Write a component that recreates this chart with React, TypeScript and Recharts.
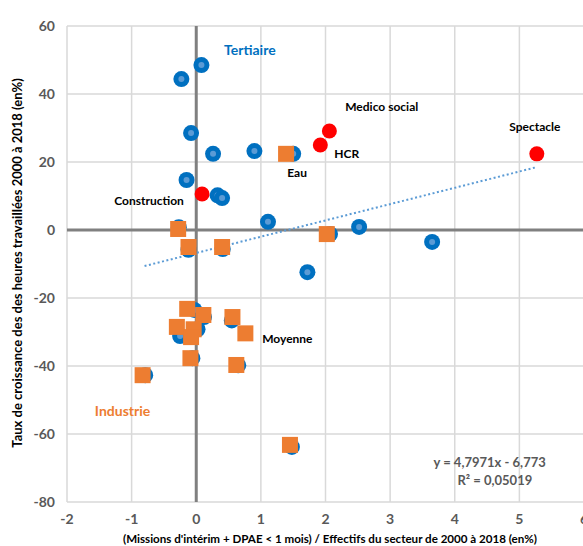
import {
  ScatterChart,
  Scatter,
  XAxis,
  YAxis,
  CartesianGrid,
  ReferenceLine,
  ReferenceDot,
} from 'recharts'

// all sectors (blue)
const allSectors = [
  { x: -0.23, y: 44.4 }, { x: 0.08, y: 48.5 }, { x: -0.08, y: 28.5 }, { x: 0.26, y: 22.4 },
  { x: 0.9, y: 23.2 }, { x: 1.5, y: 22.4 }, { x: -0.15, y: 14.7 }, { x: 0.33, y: 10.2 },
  { x: 0.4, y: 9.4 }, { x: 1.11, y: 2.4 }, { x: 2.52, y: 0.9 }, { x: 3.65, y: -3.5 },
  { x: 1.72, y: -12.4 }, { x: -0.27, y: 0.8 }, { x: 2.07, y: -1.2 }, { x: -0.12, y: -5.8 },
  { x: 0.41, y: -5.6 }, { x: -0.03, y: -23.5 }, { x: 0.12, y: -25.6 }, { x: 0.55, y: -26.6 },
  { x: -0.25, y: -31.2 }, { x: 0.02, y: -29.2 }, { x: -0.06, y: -37.7 }, { x: 0.65, y: -39.8 },
  { x: -0.79, y: -42.7 }, { x: 1.48, y: -63.8 },
]

// industrie sectors (orange squares)
const industrySectors = [
  { x: 1.39, y: 22.4 }, { x: -0.28, y: 0.3 }, { x: -0.12, y: -5 }, { x: 0.4, y: -5 },
  { x: 2.02, y: -1.2 }, { x: -0.14, y: -23.2 }, { x: 0.11, y: -25 }, { x: 0.56, y: -25.6 },
  { x: -0.3, y: -28.5 }, { x: -0.04, y: -29.2 }, { x: -0.08, y: -31.5 }, { x: 0.76, y: -30.4 },
  { x: -0.09, y: -37.7 }, { x: 0.62, y: -39.7 }, { x: -0.83, y: -42.7 }, { x: 1.45, y: -63.2 },
]

// Construction, HCR, Medico social, Spectacle
const namedSectors = [
  { x: 0.09, y: 10.6 }, { x: 1.92, y: 25 }, { x: 2.06, y: 29.1 }, { x: 5.27, y: 22.4 },
]

// linear trend, ends
const trendPoints = [
  { x: -0.8, y: -10.6 },
  { x: 5.27, y: 18.5 },
]

const xTicks = [-2, -1, 0, 1, 2, 3, 4, 5, 6]
const yTicks = [-80, -60, -40, -20, 0, 20, 40, 60]

const FONT = 'Lato, "Open Sans", sans-serif'
const GREY = '#595959'

const BlueDot = (p: any) => (
  <g>
    <circle cx={p.cx} cy={p.cy} r={8} fill="#0070C0" />
    <circle cx={p.cx} cy={p.cy} r={3} fill="#5B9BD5" />
  </g>
)

const OrangeSquare = (p: any) => (
  <rect x={p.cx - 8} y={p.cy - 8} width={16} height={16} fill="#ED7D31" />
)

const RedDot = (p: any) => <circle cx={p.cx} cy={p.cy} r={7.5} fill="#FF0000" />

const textLabel = (value: string, fill: string, size: number) => (props: any) => {
  const { viewBox } = props
  return (
    <text
      x={viewBox.x + viewBox.width / 2}
      y={viewBox.y + viewBox.height / 2}
      textAnchor="middle"
      dominantBaseline="central"
      fill={fill}
      fontSize={size}
      fontWeight="bold"
      fontFamily={FONT}
    >
      {value}
    </text>
  )
}

export default function App() {
  return (
    <div style={{ position: 'absolute', left: 0, top: 0, width: 583, height: 546, overflow: 'hidden', background: '#fff' }}>
      <ScatterChart width={590} height={546} margin={{ top: 26, right: 6, bottom: 0, left: 0 }}>
        <CartesianGrid stroke="#d9d9d9" strokeWidth={1.5} />
        <XAxis
          type="number"
          dataKey="x"
          domain={[-2, 6]}
          ticks={xTicks}
          axisLine={false}
          tickLine={false}
          tickMargin={6}
          height={44}
          tick={{ fill: GREY, fontSize: 14, fontWeight: 'bold', fontFamily: FONT }}
          label={{
            content: () => (
              <text x={330} y={538} textAnchor="middle" dominantBaseline="central" fill="#000" fontSize={11.6} fontWeight="bold" fontFamily={FONT}>
                (Missions d'intérim + DPAE &lt; 1 mois) / Effectifs du secteur de 2000 à 2018  (en%)
              </text>
            ),
          }}
        />
        <YAxis
          type="number"
          dataKey="y"
          domain={[-80, 60]}
          ticks={yTicks}
          axisLine={false}
          tickLine={false}
          tickMargin={6}
          width={67}
          tick={{ fill: GREY, fontSize: 14, fontWeight: 'bold', fontFamily: FONT }}
          label={{
            content: () => (
              <text
                x={17}
                y={263}
                transform="rotate(-90 17 263)"
                textAnchor="middle"
                dominantBaseline="central"
                fill="#000"
                fontSize={13}
                fontWeight="bold"
                fontFamily={FONT}
              >
                Taux de croissance des  des heures travaillées 2000 à 2018  (en%)
              </text>
            ),
          }}
        />
        <ReferenceLine x={0} stroke="#808080" strokeWidth={3} />
        <ReferenceLine y={0} stroke="#808080" strokeWidth={3} />
        <Scatter
          data={trendPoints}
          isAnimationActive={false}
          shape={() => <g />}
          line={{ stroke: '#5B9BD5', strokeWidth: 2, strokeDasharray: '2 2.5' }}
        />
        <Scatter data={allSectors} isAnimationActive={false} shape={BlueDot} />
        <Scatter data={industrySectors} isAnimationActive={false} shape={OrangeSquare} />
        <Scatter data={namedSectors} isAnimationActive={false} shape={RedDot} />
        <ReferenceDot x={0.83} y={53.2} r={0} label={{ content: textLabel('Tertiaire', '#0070C0', 14) }} />
        <ReferenceDot x={-1.14} y={-53.2} r={0} label={{ content: textLabel('Industrie', '#ED7D31', 14) }} />
        <ReferenceDot x={2.87} y={36.2} r={0} label={{ content: textLabel('Medico social', '#000', 12) }} />
        <ReferenceDot x={5.24} y={30.3} r={0} label={{ content: textLabel('Spectacle', '#000', 12) }} />
        <ReferenceDot x={2.33} y={22.6} r={0} label={{ content: textLabel('HCR', '#000', 12) }} />
        <ReferenceDot x={1.56} y={16.8} r={0} label={{ content: textLabel('Eau', '#000', 12) }} />
        <ReferenceDot x={-0.73} y={8.8} r={0} label={{ content: textLabel('Construction', '#000', 12) }} />
        <ReferenceDot x={1.41} y={-32} r={0} label={{ content: textLabel('Moyenne', '#000', 12) }} />
        <ReferenceDot x={4.54} y={-68.2} r={0} label={{ content: textLabel('y = 4,7971x - 6,773', GREY, 13) }} />
        <ReferenceDot x={4.62} y={-73.5} r={0} label={{ content: textLabel('R² = 0,05019', GREY, 13) }} />
      </ScatterChart>
    </div>
  )
}
